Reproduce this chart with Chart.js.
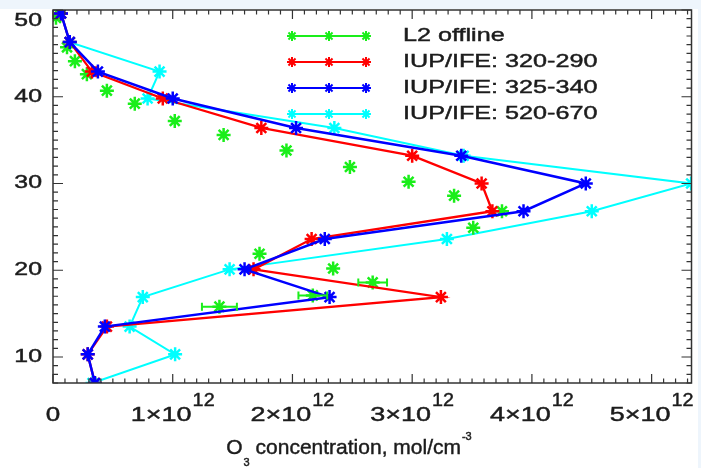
<!DOCTYPE html>
<html>
<head>
<meta charset="utf-8">
<script src="https://cdn.jsdelivr.net/npm/chart.js@4.4.1/dist/chart.umd.min.js"></script>
<style>
  html, body { margin: 0; padding: 0; background: #eef5fc; }
  #wrap { width: 701px; height: 468px; }
</style>
</head>
<body>
<div id="wrap"><canvas id="myChart" width="701" height="468"></canvas></div>
<script>
// altitude grid of the IUP/IFE retrievals (km)
const altitudes = [49.6, 46.3, 42.9, 39.8, 36.4, 33.2, 30.0, 26.8, 23.6, 20.1, 16.9, 13.5, 10.3, 7.0];

// O3 concentration, mol/cm^-3
const iup320 = [0.067e12, 0.14e12, 0.325e12, 0.917e12, 1.74e12, 3.0e12, 3.58e12, 3.67e12, 2.16e12, 1.675e12, 3.24e12, 0.45e12, 0.29e12, 0.35e12];
const iup325 = [0.067e12, 0.14e12, 0.375e12, 1.0e12, 2.03e12, 3.41e12, 4.45e12, 3.93e12, 2.27e12, 1.6e12, 2.31e12, 0.433e12, 0.29e12, 0.35e12];
const iup520 = [0.067e12, 0.14e12, 0.89e12, 0.79e12, 2.35e12, 3.43e12, 5.33e12, 4.5e12, 3.29e12, 1.475e12, 0.75e12, 0.64e12, 1.02e12, 0.33e12];

// L2 offline profile with its own altitudes and x errors
const l2Alt = [49.1, 45.7, 44.1, 42.6, 40.7, 39.2, 37.2, 35.6, 33.8, 31.9, 30.2, 28.6, 26.8, 24.9, 21.9, 20.2, 18.6, 17.1, 15.8];
const l2Conc = [0.025e12, 0.117e12, 0.183e12, 0.283e12, 0.45e12, 0.683e12, 1.017e12, 1.425e12, 1.95e12, 2.48e12, 2.97e12, 3.35e12, 3.75e12, 3.51e12, 1.725e12, 2.34e12, 2.67e12, 2.17e12, 1.39e12];
const l2Err = [0, 0, 0, 0, 0, 0, 0, 0, 0, 0, 0, 0, 0, 0, 0, 0, 0.12e12, 0.12e12, 0.146e12];

const seriesNames = ['L2 offline', 'IUP/IFE: 320-290', 'IUP/IFE: 325-340', 'IUP/IFE: 520-670'];
const seriesColors = ['#1aee1a', '#ff0000', '#0000ff', '#00ffff'];

const xTickVals = [0, 1e12, 2e12, 3e12, 4e12, 5e12];
const yTickVals = [10, 20, 30, 40, 50];

const FONT = '"Liberation Sans", Arial, sans-serif';
const INK = '#1c1c1c';

function toPoints(xs, ys) {
  return xs.map((x, i) => ({ x: x, y: ys[i] }));
}

// text stretched horizontally like the original figure
function wideText(c, txt, x, y, size, sx, align) {
  c.save();
  c.font = size + 'px ' + FONT;
  c.textBaseline = 'middle';
  c.textAlign = 'left';
  c.fillStyle = INK;
  c.strokeStyle = INK;
  c.lineWidth = 0.45;
  const w = c.measureText(txt).width * sx;
  let x0 = x;
  if (align === 'right') x0 = x - w;
  else if (align === 'center') x0 = x - w / 2;
  c.translate(x0, y);
  c.scale(sx, 1);
  c.fillText(txt, 0, 0);
  c.strokeText(txt, 0, 0);
  c.restore();
  return w;
}

function textWidth(c, txt, size, sx) {
  c.save();
  c.font = size + 'px ' + FONT;
  const w = c.measureText(txt).width * sx;
  c.restore();
  return w;
}

function asterisk(c, x, y, r, color) {
  c.save();
  c.strokeStyle = color;
  c.lineWidth = 2;
  c.beginPath();
  for (let k = 0; k < 4; k++) {
    const a = k * Math.PI / 4;
    c.moveTo(x - r * Math.cos(a), y - r * Math.sin(a));
    c.lineTo(x + r * Math.cos(a), y + r * Math.sin(a));
  }
  c.stroke();
  c.restore();
}

const backgroundPlugin = {
  id: 'background',
  beforeDraw(chart) {
    const c = chart.ctx;
    c.save();
    c.fillStyle = '#eef5fc';
    c.fillRect(0, 0, chart.width, chart.height);
    c.fillStyle = '#ffffff';
    c.fillRect(0, 9, 698, chart.height - 9);
    c.restore();
  }
};

const errorBarPlugin = {
  id: 'errorBars',
  afterDatasetsDraw(chart) {
    const c = chart.ctx;
    const xs = chart.scales.x;
    const ys = chart.scales.y;
    c.save();
    c.strokeStyle = seriesColors[0];
    c.lineWidth = 2;
    l2Err.forEach((e, i) => {
      if (!e) return;
      const y = ys.getPixelForValue(l2Alt[i]);
      const x1 = xs.getPixelForValue(l2Conc[i] - e);
      const x2 = xs.getPixelForValue(l2Conc[i] + e);
      c.beginPath();
      c.moveTo(x1, y); c.lineTo(x2, y);
      c.moveTo(x1, y - 4); c.lineTo(x1, y + 4);
      c.moveTo(x2, y - 4); c.lineTo(x2, y + 4);
      c.stroke();
    });
    c.restore();
  }
};

const framePlugin = {
  id: 'frame',
  afterDraw(chart) {
    const c = chart.ctx;
    const a = chart.chartArea;
    const xs = chart.scales.x;
    const ys = chart.scales.y;

    c.save();
    c.strokeStyle = '#333';
    c.lineWidth = 1.5;
    c.strokeRect(a.left, a.top, a.right - a.left, a.bottom - a.top);

    // inward ticks on all four sides
    c.lineWidth = 1.2;
    c.beginPath();
    for (let i = 0; i * 1e11 <= xs.max; i++) {
      const px = xs.getPixelForValue(i * 1e11);
      const len = i % 10 === 0 ? 9 : 4.5;
      c.moveTo(px, a.bottom); c.lineTo(px, a.bottom - len);
      c.moveTo(px, a.top); c.lineTo(px, a.top + len);
    }
    for (let v = Math.ceil(ys.min); v <= ys.max; v++) {
      const py = ys.getPixelForValue(v);
      const len = v % 10 === 0 ? 10 : 5;
      c.moveTo(a.left, py); c.lineTo(a.left + len, py);
      c.moveTo(a.right, py); c.lineTo(a.right - len, py);
    }
    c.stroke();
    c.restore();

    // y tick labels, the top one kept inside the white panel
    yTickVals.forEach((v) => {
      const py = Math.max(ys.getPixelForValue(v), a.top + 11);
      wideText(c, String(v), a.left - 11, py, 18, 1.38, 'right');
    });

    // x tick labels: N×10^12
    xTickVals.forEach((v) => {
      const px = xs.getPixelForValue(v);
      if (v === 0) {
        wideText(c, '0', px, a.bottom + 32, 20, 1.3, 'center');
        return;
      }
      const base = (v / 1e12) + '\u00d710';
      const wb = textWidth(c, base, 20, 1.35);
      const ws = textWidth(c, '12', 18, 1.1);
      const x0 = px - (wb + ws + 1) / 2;
      wideText(c, base, x0, a.bottom + 32, 20, 1.35, 'left');
      wideText(c, '12', x0 + wb + 1, a.bottom + 18, 18, 1.1, 'left');
    });

    // axis title: O3 concentration, mol/cm-3
    const ty = a.bottom + 65;
    const wO = textWidth(c, 'O', 21, 1);
    const w3 = textWidth(c, '3', 11, 1);
    const wMain = textWidth(c, ' concentration, mol/cm', 21, 1);
    const wSup = textWidth(c, '-3', 11, 1);
    let tx = 349 - (wO + w3 + wMain + wSup + 2) / 2;
    wideText(c, 'O', tx, ty, 21, 1, 'left');
    tx += wO;
    wideText(c, '3', tx + 1, ty + 15, 11, 1, 'left');
    tx += w3 + 1;
    wideText(c, ' concentration, mol/cm', tx, ty, 21, 1, 'left');
    tx += wMain + 1;
    wideText(c, '-3', tx, ty - 11, 11, 1, 'left');

    // legend
    const rows = [36, 62, 88, 114];
    seriesNames.forEach((name, i) => {
      const y = rows[i];
      c.save();
      c.strokeStyle = seriesColors[i];
      c.lineWidth = 2;
      c.beginPath();
      c.moveTo(292, y); c.lineTo(366, y);
      c.stroke();
      c.restore();
      [292, 329, 366].forEach((mx) => asterisk(c, mx, y, 5, seriesColors[i]));
      wideText(c, name, 403, y, 18.5, 1.36, 'left');
    });
  }
};

function lineSet(label, xs, color, order, width) {
  return {
    label: label,
    data: toPoints(xs, altitudes),
    showLine: true,
    borderColor: color,
    backgroundColor: color,
    borderWidth: width,
    pointStyle: 'star',
    pointRadius: 7,
    pointBorderWidth: 2.5,
    order: order,
  };
}

const ctx = document.getElementById('myChart');
new Chart(ctx, {
  type: 'scatter',
  data: {
    datasets: [
      {
        label: seriesNames[0],
        data: toPoints(l2Conc, l2Alt),
        showLine: false,
        borderColor: seriesColors[0],
        backgroundColor: seriesColors[0],
        pointStyle: 'star',
        pointRadius: 7,
        pointBorderWidth: 2.5,
        order: 2,
      },
      lineSet(seriesNames[1], iup320, seriesColors[1], 1, 2.3),
      lineSet(seriesNames[2], iup325, seriesColors[2], 0, 2.5),
      lineSet(seriesNames[3], iup520, seriesColors[3], 3, 2),
    ],
  },
  options: {
    responsive: false,
    animation: false,
    layout: { padding: { top: 10, right: 8, left: 0, bottom: 0 } },
    plugins: {
      legend: { display: false },
      tooltip: { enabled: false },
    },
    scales: {
      x: {
        type: 'linear',
        min: 0,
        max: 5.333e12,
        grid: { display: false },
        border: { display: false },
        ticks: { display: false },
        afterFit: (s) => { s.height = 85; },
      },
      y: {
        type: 'linear',
        min: 7,
        max: 50,
        grid: { display: false },
        border: { display: false },
        ticks: { display: false },
        afterFit: (s) => { s.width = 53; },
      },
    },
  },
  plugins: [backgroundPlugin, errorBarPlugin, framePlugin],
});
</script>
</body>
</html>
